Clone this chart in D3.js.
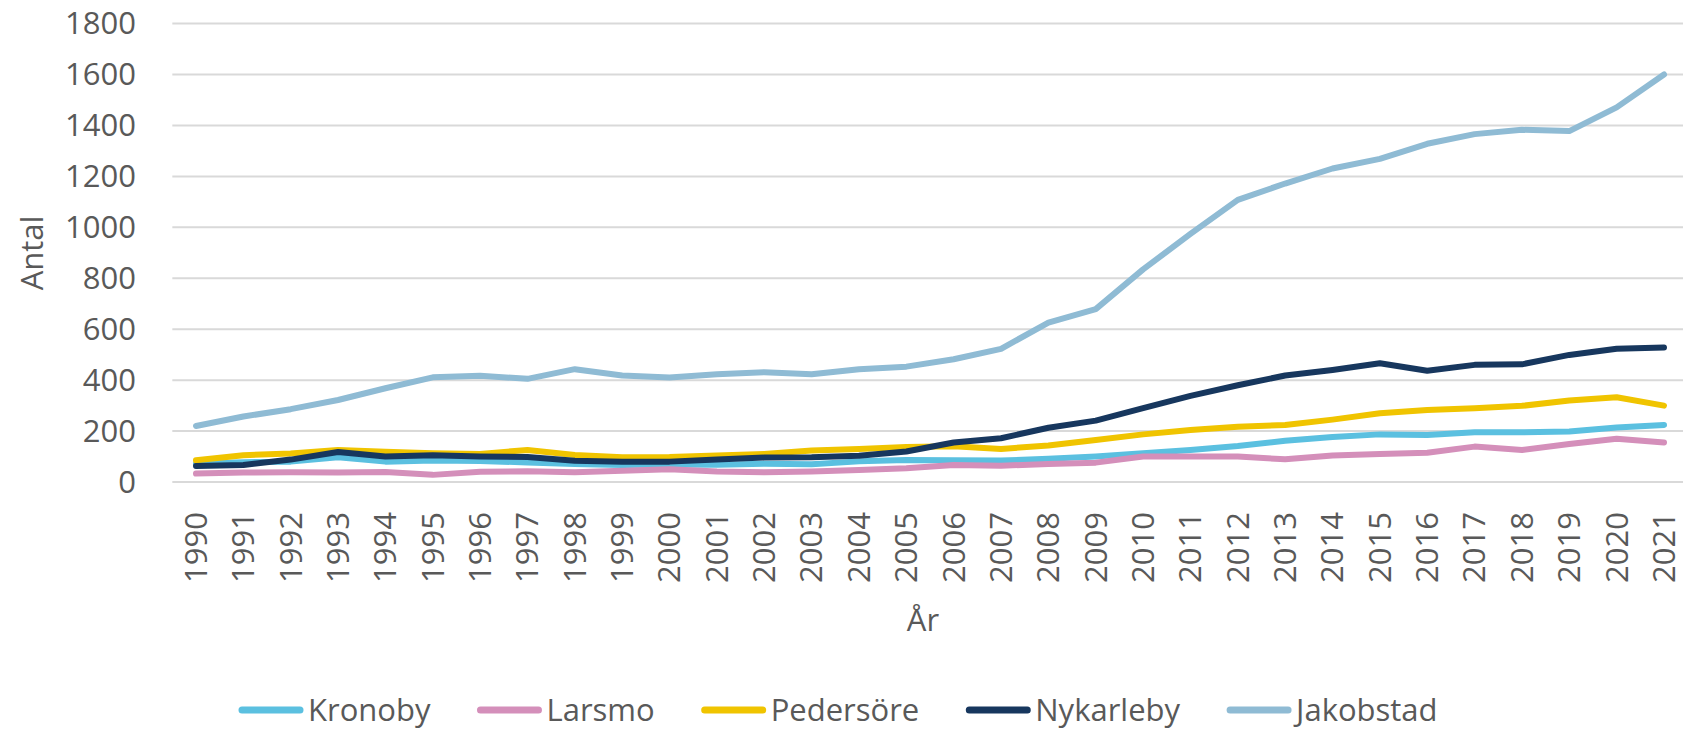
<!DOCTYPE html>
<html>
<head>
<meta charset="utf-8">
<script src="https://cdn.jsdelivr.net/npm/d3@7"></script>
<style>
  body { margin: 0; background: #fff; }
  svg text { font-family: "Open Sans", "Noto Sans", sans-serif; fill: #595959; }
</style>
</head>
<body>
<div id="chart"></div>
<script>
// Data
const years = d3.range(1990, 2022);
const seriesNames = ["Kronoby", "Larsmo", "Pedersöre", "Nykarleby", "Jakobstad"];
const kronoby = [72, 78, 80, 97, 80, 84, 82, 77, 71, 67, 69, 68, 72, 70, 81, 86, 85, 84, 91, 100, 113, 126, 141, 162, 177, 187, 185, 195, 195, 198, 214, 224];
const larsmo = [33, 37, 38, 37, 39, 28, 40, 42, 38, 44, 50, 41, 38, 41, 47, 54, 67, 64, 71, 76, 100, 100, 100, 89, 104, 110, 115, 139, 126, 149, 170, 155];
const pedersore = [85, 105, 112, 126, 119, 113, 110, 126, 106, 97, 98, 104, 110, 124, 130, 137, 140, 130, 143, 165, 187, 204, 217, 224, 245, 270, 283, 290, 299, 320, 333, 300];
const nykarleby = [63, 67, 88, 118, 100, 105, 100, 98, 83, 80, 80, 88, 96, 97, 103, 120, 155, 172, 213, 241, 290, 338, 380, 418, 440, 466, 437, 460, 462, 499, 523, 528];
const jakobstad = [220, 257, 286, 322, 368, 411, 417, 405, 443, 418, 410, 423, 431, 423, 443, 453, 482, 523, 626, 679, 835, 974, 1108, 1172, 1231, 1269, 1328, 1366, 1383, 1378, 1471, 1600];
const yTicks = [0, 200, 400, 600, 800, 1000, 1200, 1400, 1600, 1800];
const colors = ["#5bc0e0", "#d48fba", "#f0c400", "#17375e", "#8fbbd4"];

const width = 1683, height = 731;
const fontSize = 31;

const svg = d3.select("#chart").append("svg")
  .attr("width", width)
  .attr("height", height);

const x = d3.scalePoint().domain(years).range([196, 1664]);
const step = x.step();
const y = d3.scaleLinear().domain([0, 1800]).range([482, 23.6]);

// gridlines
svg.append("g")
  .selectAll("line")
  .data(yTicks)
  .join("line")
  .attr("x1", x(years[0]) - step / 2)
  .attr("x2", x(years[years.length - 1]) + step / 2)
  .attr("y1", d => y(d))
  .attr("y2", d => y(d))
  .attr("stroke", "#d9d9d9")
  .attr("stroke-width", 2);

// y tick labels
svg.append("g")
  .selectAll("text")
  .data(yTicks)
  .join("text")
  .attr("x", 136)
  .attr("y", d => y(d))
  .attr("dy", "0.35em")
  .attr("text-anchor", "end")
  .style("font-size", fontSize + "px")
  .text(d => d);

// x tick labels, rotated
svg.append("g")
  .selectAll("text")
  .data(years)
  .join("text")
  .attr("transform", d => `translate(${x(d)},512) rotate(-90)`)
  .attr("dy", "0.35em")
  .attr("text-anchor", "end")
  .style("font-size", fontSize + "px")
  .text(d => d);

// axis titles
svg.append("text")
  .attr("transform", "translate(32,253) rotate(-90)")
  .attr("dy", "0.35em")
  .attr("text-anchor", "middle")
  .style("font-size", fontSize + "px")
  .text("Antal");

svg.append("text")
  .attr("x", 923)
  .attr("y", 620)
  .attr("dy", "0.35em")
  .attr("text-anchor", "middle")
  .style("font-size", fontSize + "px")
  .text("År");

// lines
const allSeries = [kronoby, larsmo, pedersore, nykarleby, jakobstad];
const line = d3.line()
  .x((d, i) => x(years[i]))
  .y(d => y(d));

svg.append("g")
  .selectAll("path")
  .data(allSeries)
  .join("path")
  .attr("d", d => line(d))
  .attr("fill", "none")
  .attr("stroke", (d, i) => colors[i])
  .attr("stroke-width", 6)
  .attr("stroke-linejoin", "round")
  .attr("stroke-linecap", "round");

// legend
const legend = svg.append("g");
let lx = 238;
const ly = 710;
seriesNames.forEach((name, i) => {
  legend.append("line")
    .attr("x1", lx + 4).attr("x2", lx + 62)
    .attr("y1", ly).attr("y2", ly)
    .attr("stroke", colors[i])
    .attr("stroke-width", 7)
    .attr("stroke-linecap", "round");
  const t = legend.append("text")
    .attr("x", lx + 70)
    .attr("y", ly)
    .attr("dy", "0.35em")
    .style("font-size", fontSize + "px")
    .text(name);
  lx += 70 + t.node().getComputedTextLength() + 46;
});
</script>
</body>
</html>
